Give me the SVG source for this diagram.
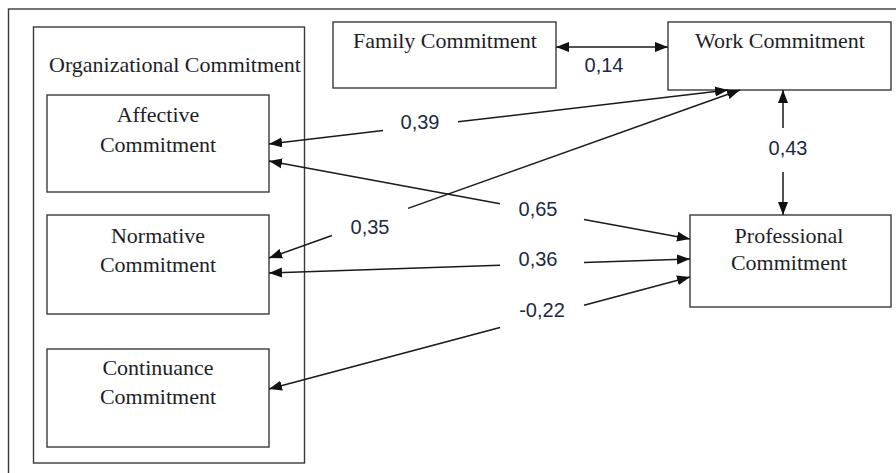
<svg xmlns="http://www.w3.org/2000/svg" width="896" height="473" viewBox="0 0 896 473">
<style>
.box{fill:#fff;stroke:#3a3a3a;stroke-width:1.4}
.frame{fill:none;stroke:#3a3a3a;stroke-width:1.4}
.lbl{font-family:"Liberation Serif","Times New Roman",serif;font-size:22px;fill:#1e1e28;text-anchor:middle}
.num{font-family:"Liberation Sans",Arial,sans-serif;font-size:20px;fill:#1c2a44;text-anchor:middle}
.c{stroke:#1a1a1a;stroke-width:1.5;fill:none}
.s{marker-start:url(#ah)}
.e{marker-end:url(#ah)}
</style>
<defs>
<marker id="ah" markerUnits="userSpaceOnUse" markerWidth="14" markerHeight="11" refX="13" refY="5" orient="auto-start-reverse" viewBox="0 0 14 10">
<path d="M0,0 L13,5 L0,10 z" fill="#111"/>
</marker>
</defs>
<rect x="0" y="0" width="896" height="473" fill="#fff"/>
<rect class="frame" x="8.5" y="9" width="900" height="480"/>
<g id="organizational">
<rect class="box" x="33.5" y="27" width="271" height="436"/>
<text class="lbl" x="175" y="72">Organizational Commitment</text>
</g>
<g id="affective">
<rect class="box" x="47" y="95" width="222" height="97"/>
<text class="lbl" x="158" y="122">Affective</text>
<text class="lbl" x="158" y="152">Commitment</text>
</g>
<g id="normative">
<rect class="box" x="47" y="215" width="222" height="99"/>
<text class="lbl" x="158" y="243">Normative</text>
<text class="lbl" x="158" y="272">Commitment</text>
</g>
<g id="continuance">
<rect class="box" x="47" y="349" width="222" height="98"/>
<text class="lbl" x="158" y="375">Continuance</text>
<text class="lbl" x="158" y="404">Commitment</text>
</g>
<g id="family">
<rect class="box" x="333" y="22" width="223" height="66"/>
<text class="lbl" x="445" y="48">Family Commitment</text>
</g>
<g id="work">
<rect class="box" x="668" y="22" width="223" height="68"/>
<text class="lbl" x="780" y="48">Work Commitment</text>
</g>
<g id="professional">
<rect class="box" x="690" y="215" width="201" height="92"/>
<text class="lbl" x="789" y="243">Professional</text>
<text class="lbl" x="789" y="270">Commitment</text>
</g>
<g id="connectors">
<line class="c s e" x1="556" y1="47" x2="668" y2="47"/>
<line class="c s" x1="783" y1="90" x2="783" y2="128"/>
<line class="c e" x1="783" y1="172" x2="783" y2="215"/>
<line class="c s" x1="269" y1="144" x2="383" y2="130.6"/>
<line class="c e" x1="458" y1="121.8" x2="728" y2="90"/>
<line class="c s" x1="269" y1="258" x2="332" y2="235.5"/>
<line class="c e" x1="408" y1="208.4" x2="740" y2="90"/>
<line class="c s" x1="269" y1="161" x2="500" y2="203.8"/>
<line class="c e" x1="584" y1="219.4" x2="690" y2="239"/>
<line class="c s" x1="269" y1="273" x2="500" y2="265.3"/>
<line class="c e" x1="584" y1="262.5" x2="690" y2="259"/>
<line class="c s" x1="269" y1="389" x2="500" y2="327.5"/>
<line class="c e" x1="584" y1="305.2" x2="690" y2="277"/>
<text class="num" x="604" y="72">0,14</text>
<text class="num" x="788" y="155">0,43</text>
<text class="num" x="420" y="129">0,39</text>
<text class="num" x="370" y="234">0,35</text>
<text class="num" x="538" y="216">0,65</text>
<text class="num" x="538" y="266">0,36</text>
<text class="num" x="542" y="317">-0,22</text>
</g>
</svg>
